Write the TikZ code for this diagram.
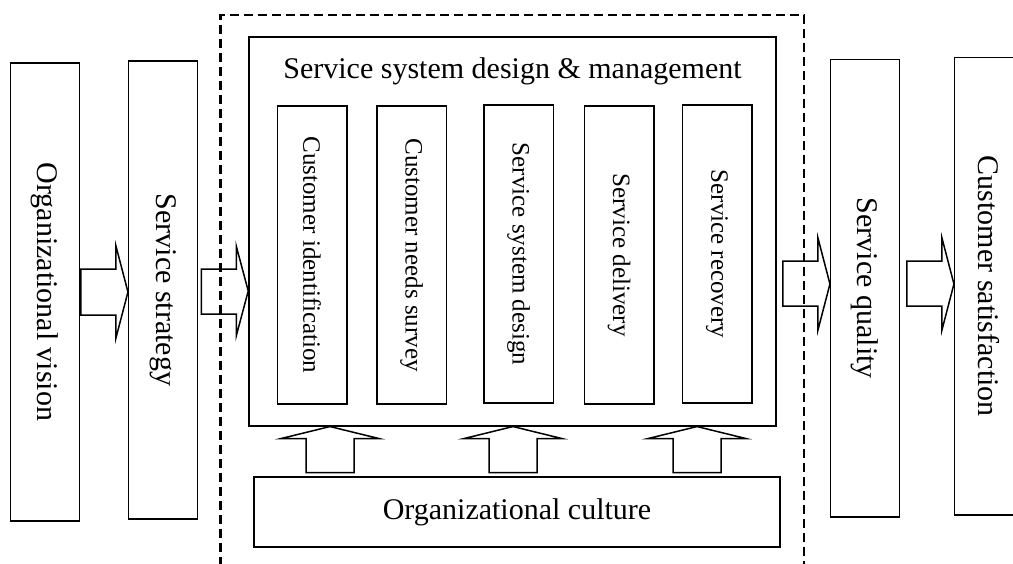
\documentclass[tikz,border=0pt]{standalone}
\usepackage{fontspec}
\setmainfont{Liberation Serif}
\usepackage{graphicx}

\begin{document}
\begin{tikzpicture}[
  x=1pt, y=-1pt,
  box/.style={draw, line width=1.5pt, inner sep=0pt, font=\fontsize{30}{36}\selectfont},
  tallbox/.style={box, minimum width=68.6pt, minimum height=458pt},
  stage/.style={box, minimum width=69.5pt, minimum height=298pt, font=\fontsize{25}{30}\selectfont},
  blockarrow/.style={draw, line width=1.5pt, line join=miter},
  frame/.style={draw, line width=2.7pt, dash pattern=on 9pt off 5pt},
]
  \useasboundingbox (0,0) rectangle (1013,563);

  \node[tallbox] (vision) at (45,292) {\rotatebox{-90}{Organizational vision}};
  \node[tallbox] (strategy) at (163,290) {\rotatebox{-90}{Service strategy}};

  \node[box, minimum width=527pt, minimum height=389pt] (ssdm) at (512.5,231.3) {};
  \node[font=\fontsize{30}{36}\selectfont, anchor=base] (title) at (512.5,78)
    {Service system design \& management};
  \node[stage] (identify) at (312,255) {\rotatebox{-90}{Customer identification}};
  \node[stage] (needs) at (411.5,255) {\rotatebox{-90}{Customer needs survey}};
  \node[stage] (sysdesign) at (518.5,254) {\rotatebox{-90}{Service system design}};
  \node[stage] (delivery) at (619,255) {\rotatebox{-90}{Service delivery}};
  \node[stage] (recovery) at (717,254) {\rotatebox{-90}{Service recovery}};

  \node[box, minimum width=526pt, minimum height=70pt] (culture) at (517,512)
    {Organizational culture};

  \node[tallbox, minimum height=457.5pt] (quality) at (865,288.3) {\rotatebox{-90}{Service quality}};
  \node[tallbox, minimum height=457.5pt] (satisfaction) at (989,286.3)
    {\rotatebox{-90}{Customer satisfaction}};

  \draw[frame] (220.7,566) -- (220.7,15) -- (804,15) -- (804,566);

  % block arrows, tip on the box they point into
  \draw[blockarrow] (strategy.west |- 0,292) -- ++(-12,-46) -- ++(0,23) -- ++(-35,0)
    -- ++(0,46) -- ++(35,0) -- ++(0,23) -- cycle;
  \draw[blockarrow] (ssdm.west |- 0,291) -- ++(-12,-45) -- ++(0,23) -- ++(-35,0)
    -- ++(0,45) -- ++(35,0) -- ++(0,22) -- cycle;
  \draw[blockarrow] (quality.west |- 0,284) -- ++(-12,-46) -- ++(0,23) -- ++(-35,0)
    -- ++(0,45) -- ++(35,0) -- ++(0,24) -- cycle;
  \draw[blockarrow] (satisfaction.west |- 0,284) -- ++(-12,-46) -- ++(0,23) -- ++(-35,0)
    -- ++(0,45) -- ++(35,0) -- ++(0,24) -- cycle;

  \draw[blockarrow] (330,0 |- ssdm.south) -- ++(49,12) -- ++(-25,0) -- ++(0,34)
    -- ++(-48,0) -- ++(0,-34) -- ++(-25,0) -- cycle;
  \draw[blockarrow] (513,0 |- ssdm.south) -- ++(49,12) -- ++(-25,0) -- ++(0,34)
    -- ++(-48,0) -- ++(0,-34) -- ++(-25,0) -- cycle;
  \draw[blockarrow] (697,0 |- ssdm.south) -- ++(49,12) -- ++(-25,0) -- ++(0,34)
    -- ++(-48,0) -- ++(0,-34) -- ++(-25,0) -- cycle;
\end{tikzpicture}
\end{document}
